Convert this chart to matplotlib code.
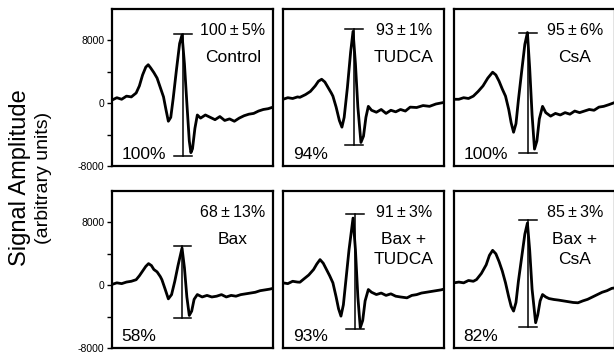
import matplotlib
matplotlib.use("Agg")
import matplotlib.pyplot as plt
from matplotlib.ticker import FixedLocator

plt.rcParams['font.family'] = ['Liberation Sans', 'DejaVu Sans']

# trace data (time in arbitrary units 0..100, amplitude in arbitrary units)
control_x = [0, 3, 6, 9, 12, 15, 17, 19, 21, 22.5, 24, 26, 28, 30, 32, 33.5, 35, 36.5, 38, 40, 42, 43.5,
             45, 46.5, 48, 49, 50, 51.5, 53, 55, 58, 61, 64, 67, 70, 73, 76, 79, 82, 85, 88, 91, 94, 97, 100]
control_y = [400, 700, 500, 900, 800, 1300, 2200, 3600, 4600, 4900, 4500, 3900, 3200, 2000, 800, -800, -2300,
             -1800, 600, 4200, 7600, 8700, 5000, 0, -4800, -6300, -5800, -3200, -1500, -1900, -1500, -1800,
             -2100, -1700, -2200, -2000, -2300, -1900, -1600, -1400, -1300, -1000, -800, -700, -500]

tudca_x = [0, 3, 6, 9, 10.5, 14, 17, 20, 22, 24, 26, 28, 30, 31, 33, 35, 36.6, 38, 40, 42, 43.5, 45, 46.5,
           48.4, 50, 51.5, 53, 55, 58, 61, 64, 67, 70, 73, 76, 79, 83, 87, 91, 95, 100]
tudca_y = [500, 700, 600, 800, 750, 1100, 1500, 2200, 2800, 3050, 2700, 2000, 1300, 900, -500, -2200, -3050,
           -1800, 2000, 6500, 9150, 5000, -500, -5000, -4200, -1800, -400, -900, -1150, -800, -1300, -900,
           -1100, -800, -1000, -500, -550, -300, -400, -100, 100]

csa_x = [0, 3, 6, 9, 12, 15, 18, 21, 24, 26, 28, 30, 32, 34, 35.5, 37, 38.5, 40, 42, 44, 45.6, 47, 48.5, 50,
         51.5, 53, 55, 57, 60, 63, 66, 69, 72, 75, 78, 81, 84, 87, 90, 93, 96, 100]
csa_y = [500, 500, 700, 600, 900, 1500, 2200, 3200, 3950, 3600, 2800, 1800, 900, -800, -2500, -3700, -2600,
         400, 4000, 7500, 9000, 4500, -1500, -5850, -4800, -2000, -400, -1200, -1650, -1300, -1500, -1200,
         -1400, -1000, -1200, -1000, -800, -900, -500, -400, -200, 100]

bax_x = [0, 3, 6, 9, 12, 15, 17, 19, 21, 22.7, 24.5, 26, 28, 30, 31, 33, 35, 37, 39, 41, 43.5, 45, 46.5, 48,
         49.5, 51, 53, 56, 59, 62, 65, 68, 71, 74, 77, 80, 83, 86, 89, 92, 95, 98, 100]
bax_y = [100, 300, 200, 400, 500, 700, 1200, 1800, 2400, 2750, 2500, 2000, 1700, 1100, 700, -500, -1740,
         -1200, 500, 2500, 4740, 2200, -1500, -3850, -3300, -1800, -1190, -1500, -1300, -1500, -1400, -1200,
         -1500, -1300, -1400, -1200, -1100, -1000, -900, -700, -600, -500, -400]

bax_tudca_x = [0, 3, 6, 9, 10.5, 13, 16, 19, 21, 23, 25, 27, 29, 31, 33, 34.5, 36, 37.5, 39, 41, 43.5, 45,
               46.5, 48, 49.5, 51, 53, 55, 58, 61, 64, 67, 70, 73, 77, 80, 83, 86, 89, 92, 95, 98, 100]
bax_tudca_y = [300, 200, 500, 400, 380, 800, 1300, 2000, 2700, 3260, 2800, 2000, 1200, 300, -1500, -3000,
               -3940, -2500, 500, 4500, 8550, 4500, -1500, -5420, -4500, -2000, -550, -900, -1190, -1000,
               -1300, -1100, -1400, -1500, -1610, -1300, -1200, -1000, -900, -800, -700, -600, -500]

bax_csa_x = [0, 3, 6, 9, 12, 14, 17, 20, 22, 24, 26, 28, 30, 32, 34, 35.5, 37, 38.5, 40, 42, 44, 45.6, 47,
             48.5, 50.7, 52, 53.5, 55, 57, 59, 62, 65, 68, 71, 74, 77, 80, 83, 86, 89, 92, 95, 98, 100]
bax_csa_y = [300, 400, 300, 600, 500, 720, 1500, 2600, 3800, 4440, 4000, 3000, 1800, 300, -1500, -2700,
             -3300, -2200, 500, 3500, 6500, 7920, 4500, -500, -4780, -3800, -2000, -1190, -1500, -1700,
             -1820, -1900, -2000, -2100, -2200, -2240, -2000, -1800, -1500, -1200, -900, -700, -400, -340]

names = ['Control', 'TUDCA', 'CsA', 'Bax', 'Bax +\nTUDCA', 'Bax +\nCsA']
mean_labels = ['100\u2009\u00b1\u20095%', '93\u2009\u00b1\u20091%', '95\u2009\u00b1\u20096%',
               '68\u2009\u00b1\u200913%', '91\u2009\u00b1\u20093%', '85\u2009\u00b1\u20093%']
trace_labels = ['100%', '94%', '100%', '58%', '93%', '82%']
bar_x = [44, 44, 46, 43.6, 44.7, 46]
bar_top = [8800, 9400, 9000, 4950, 9060, 8340]
bar_bottom = [-6700, -5330, -6350, -4230, -5540, -5290]

traces = [(control_x, control_y), (tudca_x, tudca_y), (csa_x, csa_y),
          (bax_x, bax_y), (bax_tudca_x, bax_tudca_y), (bax_csa_x, bax_csa_y)]

W, H = 614, 356
fig = plt.figure(figsize=(W / 100, H / 100), dpi=100)

col_left = [112, 283, 454]
row_top = [9, 191]
pw, ph = 161, 157

for i in range(6):
    r, c = divmod(i, 3)
    ax = fig.add_axes([col_left[c] / W, 1 - (row_top[r] + ph) / H, pw / W, ph / H])
    x, y = traces[i]
    ax.plot(x, y, color='black', lw=2.0, solid_joinstyle='round')
    # amplitude bar
    ax.plot([bar_x[i], bar_x[i]], [bar_bottom[i], bar_top[i]], color='black', lw=1.1)
    ax.plot([bar_x[i] - 5.4, bar_x[i] + 5.4], [bar_top[i], bar_top[i]], color='black', lw=1.1)
    ax.plot([bar_x[i] - 5.4, bar_x[i] + 5.4], [bar_bottom[i], bar_bottom[i]], color='black', lw=1.1)

    ax.text(75, 9300, mean_labels[i], ha='center', va='center', fontsize=11.5)
    ax.text(75, 6800, names[i], ha='center', va='top', fontsize=12.5, linespacing=1.4)
    ax.text(6, -6550, trace_labels[i], ha='left', va='center', fontsize=12.5)

    ax.set_xlim(0, 100)
    ax.set_ylim(-8000, 12000)
    ax.set_xticks([])
    for s in ax.spines.values():
        s.set_linewidth(1.6)
    if c == 0:
        ax.set_yticks([-8000, 0, 8000])
        ax.set_yticklabels(['-8000', '0', '8000'], fontsize=7.5)
        ax.yaxis.set_minor_locator(FixedLocator([-4000, 4000]))
        ax.tick_params(axis='y', which='both', direction='out', length=3.5, width=1, pad=2)
    else:
        ax.set_yticks([])

fig.text(20 / W, 0.5, 'Signal Amplitude', rotation=90, ha='center', va='center', fontsize=17)
fig.text(44 / W, 0.5, '(arbitrary units)', rotation=90, ha='center', va='center', fontsize=14)

fig.savefig('out.png', dpi=100)
